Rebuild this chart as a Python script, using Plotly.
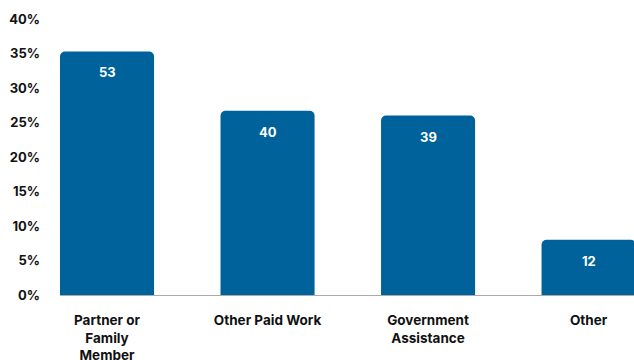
import plotly.graph_objects as go

categories = ["Partner or<br>Family<br>Member", "Other Paid Work", "Government<br>Assistance", "Other"]
percents = [35.3, 26.7, 26.0, 8.0]
counts = [53, 40, 39, 12]
y_ticks = [0, 5, 10, 15, 20, 25, 30, 35, 40]
y_tick_labels = [f"{v}%" for v in y_ticks]

BAR = "#00629B"
FONT = "Inter"

fig = go.Figure()
fig.add_trace(go.Bar(
    x=list(range(len(categories))),
    y=percents,
    width=0.586,
    marker=dict(color=BAR, line=dict(width=0)),
    hoverinfo="skip",
))

for i, (p, c) in enumerate(zip(percents, counts)):
    fig.add_annotation(
        x=i, y=p, text=str(c), showarrow=False, yanchor="top", yshift=-11,
        font=dict(family=FONT, size=13, color="white", weight="bold"),
    )

fig.update_layout(
    width=634, height=360,
    margin=dict(l=60, r=0, t=19, b=65),
    paper_bgcolor="white", plot_bgcolor="white",
    barcornerradius=5,
    showlegend=False,
    font=dict(family=FONT, size=13, color="#111"),
)
fig.update_xaxes(
    range=[-0.293, 3.283],
    tickmode="array", tickvals=list(range(len(categories))), ticktext=categories,
    tickfont=dict(family=FONT, size=13.5, color="#111", weight="bold"),
    showline=True, linecolor="#aaaaaa", linewidth=1,
    showgrid=False, zeroline=False, ticks="", ticklabelstandoff=13,
    automargin=False,
)
fig.update_yaxes(
    range=[0, 40],
    tickmode="array", tickvals=y_ticks, ticktext=y_tick_labels,
    tickfont=dict(family=FONT, size=13, color="#111", weight="bold"),
    showgrid=False, zeroline=False, showline=False, ticks="",
    ticklabelstandoff=19, automargin=False,
)

fig.write_html("out.html")
